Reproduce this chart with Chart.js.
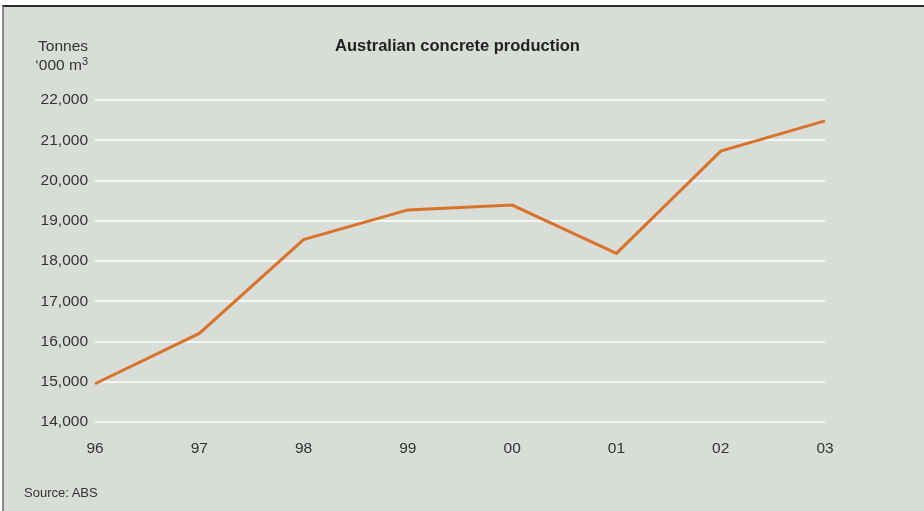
<!DOCTYPE html>
<html>
<head>
<meta charset="utf-8">
<script src="https://cdn.jsdelivr.net/npm/chart.js@4"></script>
<style>
  body { margin: 0; background: #fff; width: 924px; height: 511px; overflow: hidden; font-family: "Liberation Sans", Arial, sans-serif; }
  .panel { position: absolute; left: 2px; top: 5px; right: 0; bottom: 0; background: #d9ddd7; border-top: 2px solid #2a2a2a; border-left: 2px solid #8a8a8a; }
  #chart { position: absolute; left: 0; top: 0; }
  .txt { position: absolute; color: #333; white-space: nowrap; }
  #title { left: 0; width: 915px; top: 36px; text-align: center; font-weight: bold; font-size: 16.5px; color: #222; }
  #unit { right: 836px; top: 36px; text-align: right; font-size: 15.5px; line-height: 19px; }
  #source { left: 24px; top: 485px; font-size: 13px; }
</style>
</head>
<body>
<div class="panel"></div>
<canvas id="chart" width="924" height="511"></canvas>
<div class="txt" id="title">Australian concrete production</div>
<div class="txt" id="unit">Tonnes<br>‘000 m<sup style="font-size:11px;vertical-align:5px;line-height:0">3</sup></div>
<div class="txt" id="source">Source: ABS</div>
<script>
const years = ['96', '97', '98', '99', '00', '01', '02', '03'];
const production = [14950, 16200, 18530, 19270, 19390, 18190, 20730, 21480];
const yMin = 14000;
const yMax = 22000;
const yStep = 1000;

const ctx = document.getElementById('chart').getContext('2d');

const chart = new Chart(ctx, {
    type: 'line',
    data: {
        labels: years,
        datasets: [
            { label: 'Concrete production', data: production, borderColor: '#d9732c', borderWidth: 3, pointRadius: 0, fill: false, tension: 0 },
        ],
    },
    options: {
        responsive: false,
        maintainAspectRatio: false,
        animation: false,
        layout: { padding: { left: 0, right: 99, top: 100, bottom: 0 } },
        plugins: { legend: { display: false }, tooltip: { enabled: false } },
        scales: {
            x: {
                offset: false,
                grid: { display: false },
                border: { display: false },
                ticks: { color: '#333', font: { family: 'Liberation Sans', size: 15.5 }, padding: 9, maxRotation: 0 },
                afterFit: (s) => { s.height = 89; },
            },
            y: {
                min: yMin,
                max: yMax,
                grid: { color: '#f4f5f2', lineWidth: 2, drawTicks: false },
                border: { display: false },
                ticks: {
                    stepSize: yStep,
                    color: '#333',
                    font: { family: 'Liberation Sans', size: 15.5 },
                    padding: 7,
                    callback: (v) => v.toLocaleString('en-US'),
                },
                afterFit: (s) => { s.width = 95; },
            },
        },
    },
});
</script>
</body>
</html>
